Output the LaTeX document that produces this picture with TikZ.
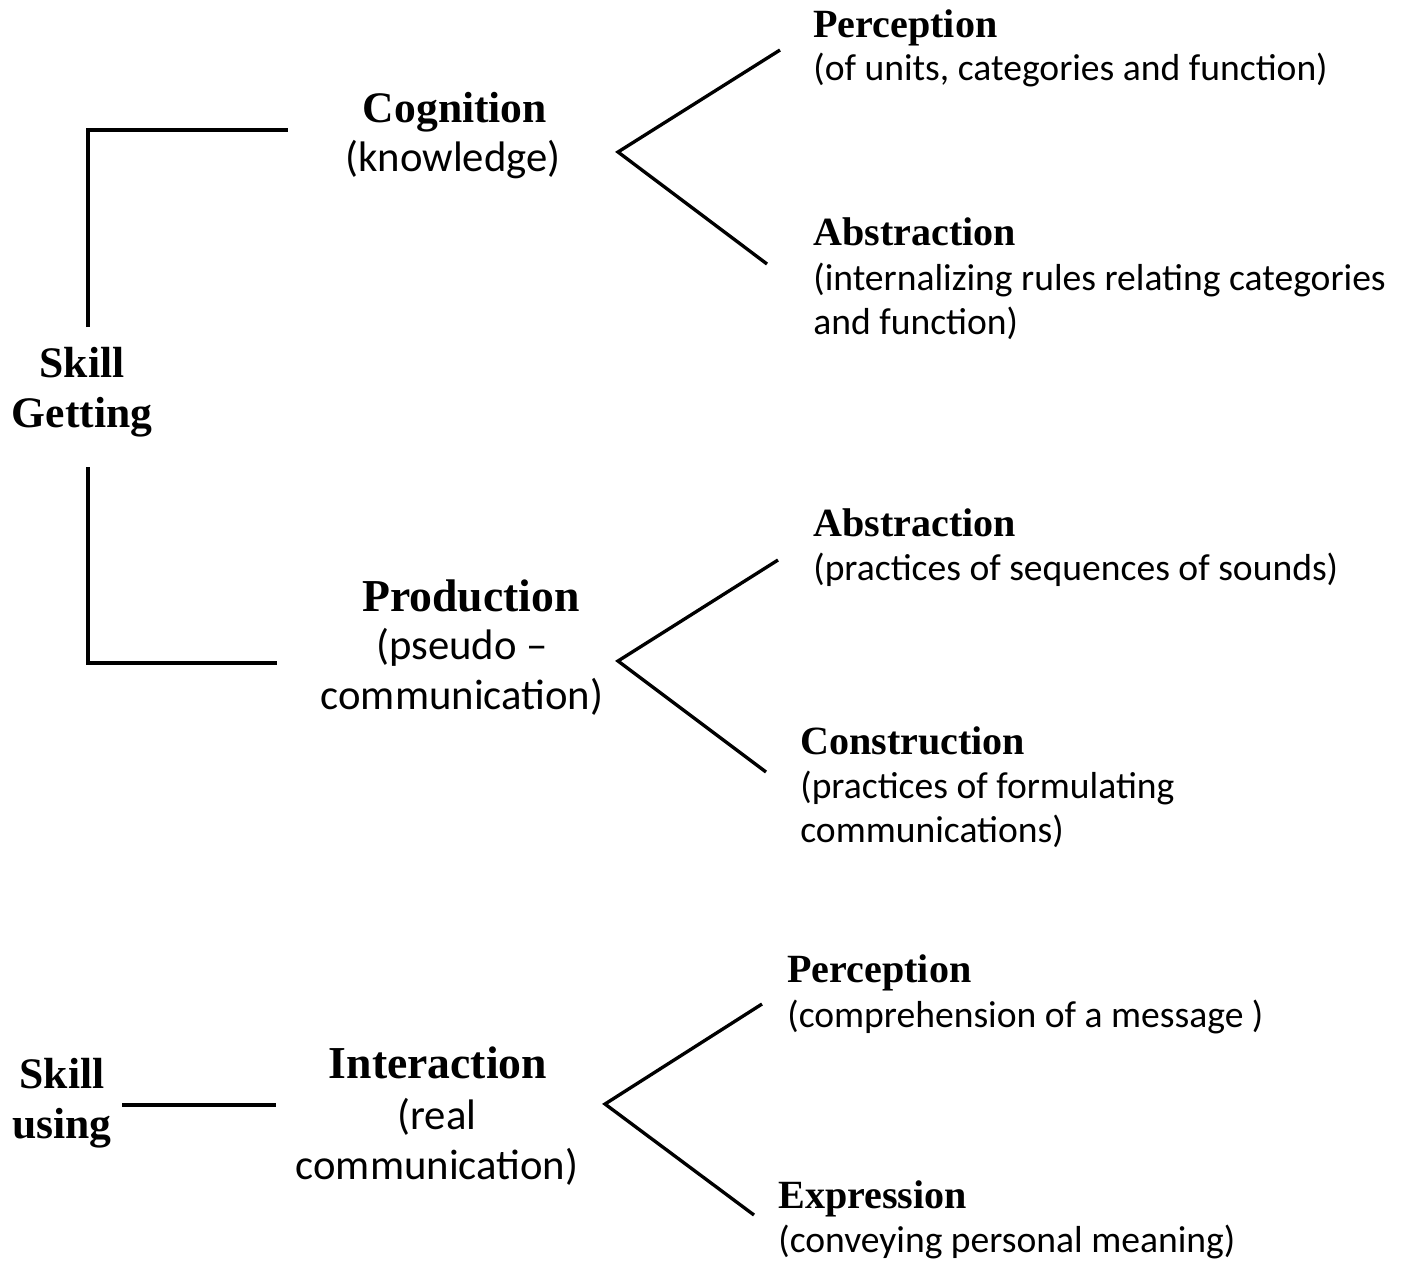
\documentclass[tikz,border=0pt]{standalone}
\usepackage{fontspec}
\setmainfont{Carlito}
\newfontfamily\headserif{Liberation Serif}

\begin{document}
\begin{tikzpicture}[x=0.02cm, y=-0.02cm]
    \tikzstyle{branch} = [
      line width=1.9pt,
      draw=black,
    ]
    \tikzstyle{head} = [
      anchor=base west,
      inner sep=0pt,
      font=\fontsize{22.8}{28}\headserif\bfseries,
    ]
    \tikzstyle{root} = [
      head,
      anchor=base,
      align=center,
      font=\fontsize{24.8}{28}\headserif\bfseries,
    ]
    \tikzstyle{body} = [
      anchor=base west,
      inner sep=0pt,
      align=left,
      font=\fontsize{21.4}{25}\selectfont,
    ]
    \tikzstyle{midbody} = [
      body,
      anchor=base,
      align=center,
      font=\fontsize{24.3}{28.3}\selectfont,
    ]

    \useasboundingbox (0,0) rectangle (1405,1262);

    % skill getting (base = last line)
    {
      \node[root] (skillGetting) at (82,427) {Skill\\Getting};
      \coordinate (getTop)    at (88,130);
      \coordinate (getTopEnd) at (88,327);
      \coordinate (getBot)    at (88,663);
      \coordinate (getBotEnd) at (88,467);
      \coordinate (cogLine)   at (288,130);
      \coordinate (prodLine)  at (277,663);
      \draw[branch] (getTopEnd) -- (getTop) -- (cogLine);
      \draw[branch] (getBotEnd) -- (getBot) -- (prodLine);
    }

    % cognition
    {
      \node[root] (cognition) at (455,122) {Cognition};
      \node[midbody] (cognitionBody) at (453,171) {(knowledge)};

      \coordinate (cogFork) at (618,152);
      \coordinate (cogUp)   at (780,50);
      \coordinate (cogDown) at (767,264);
      \draw[branch] (cogUp) -- (cogFork) -- (cogDown);

      \node[head] (perceptionI) at (813,37) {Perception};
      \node[body] (perceptionIBody) at (813,80) {(of units, categories and function)};

      \node[head] (abstractionI) at (813,245) {Abstraction};
      \node[body] (abstractionIBody) at (813,334) {(internalizing rules relating categories\\and function)};
    }

    % production
    {
      \node[root, font=\fontsize{26}{28}\headserif\bfseries] (production) at (471,611) {Production};
      \node[midbody] (productionBody) at (462,709) {(pseudo --\\communication)};

      \coordinate (prodFork) at (618,661);
      \coordinate (prodUp)   at (778,560);
      \coordinate (prodDown) at (766,772);
      \draw[branch] (prodUp) -- (prodFork) -- (prodDown);

      \node[head] (abstractionII) at (813,536) {Abstraction};
      \node[body] (abstractionIIBody) at (813,580) {(practices of sequences of sounds)};

      \node[head] (construction) at (800,754) {Construction};
      \node[body] (constructionBody) at (800,842) {(practices of formulating\\communications)};
    }

    % skill using
    {
      \node[root] (skillUsing) at (62,1138) {Skill\\using};
      \coordinate (useStart) at (122,1105);
      \coordinate (useEnd)   at (276,1105);
      \draw[branch] (useStart) -- (useEnd);

      \node[root, font=\fontsize{26}{28}\headserif\bfseries] (interaction) at (438,1078) {Interaction};
      \node[midbody] (interactionBody) at (437,1179) {(real\\communication)};

      \coordinate (useFork) at (605,1104);
      \coordinate (useUp)   at (762,1004);
      \coordinate (useDown) at (754,1215);
      \draw[branch] (useUp) -- (useFork) -- (useDown);

      \node[head] (perceptionII) at (787,982) {Perception};
      \node[body] (perceptionIIBody) at (787,1027) {(comprehension of a message )};

      \node[head] (expression) at (778,1208) {Expression};
      \node[body] (expressionBody) at (778,1252) {(conveying personal meaning)};
    }
\end{tikzpicture}
\end{document}
